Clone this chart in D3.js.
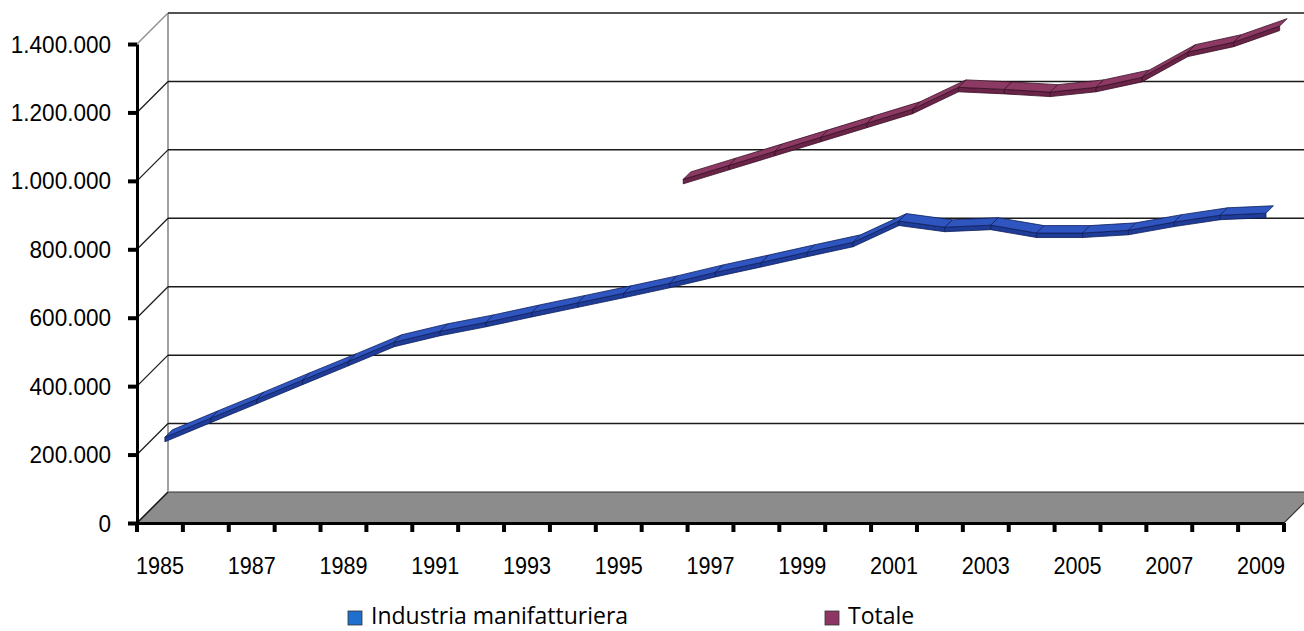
<!DOCTYPE html>
<html><head><meta charset="utf-8">
<script src="https://cdn.jsdelivr.net/npm/d3@7"></script>
<style>body{margin:0;background:#fff}svg{display:block}</style>
</head><body>
<svg id="c" width="1304" height="631"></svg>
<script>
const years = d3.range(1985, 2010);
const industria = [236000,292000,347000,403000,458000,514000,546000,572000,601000,629000,657000,686000,718000,747000,777000,806000,868000,850000,856000,833000,833000,841000,865000,885000,891000];
const totaleYears = d3.range(1996, 2010);
const totale = [950000,991000,1032000,1073000,1114000,1155000,1219000,1213000,1205000,1219000,1248000,1322000,1351000,1398000];
const yTicks = [0,200000,400000,600000,800000,1000000,1200000,1400000];
const xLabelYears = years.filter(y => (y - 1985) % 2 === 0);
const seriesNames = ["Industria manifatturiera", "Totale"];

const svg = d3.select("#c");
const DX = 31, DY = 31;
const x = d3.scaleBand().domain(years).range([137, 1284]).paddingInner(0).paddingOuter(0);
const y = d3.scaleLinear().domain([0, 1400000]).range([523, 44]);
const proj = (px, py, d) => [px + DX * d, py - DY * d];
const loc = d3.formatLocale({decimal: ",", thousands: ".", grouping: [3], currency: ["€", ""]});
const fmt = loc.format(",");
const SX = 0.92;

// floor
const x0 = x.range()[0], x1 = x.range()[1], y0 = y(0);
svg.append("polygon")
  .attr("points", [[x0, y0], [x1, y0], proj(x1, y0, 1), proj(x0, y0, 1)].map(p => p.join(",")).join(" "))
  .attr("fill", "#8c8c8c").attr("stroke", "#333").attr("stroke-width", 1.2);

// back wall left edge
svg.append("line").attr("x1", x0 + DX).attr("x2", x0 + DX)
  .attr("y1", y(1400000) - DY).attr("y2", y0 - DY).attr("stroke", "#a0a0a0").attr("stroke-width", 2);

// gridlines (back wall + side slant)
yTicks.forEach(v => {
  const [bx, by] = proj(x0, y(v), 1);
  if (v > 0) {
    svg.append("line").attr("x1", bx).attr("x2", 1304 + 20).attr("y1", by).attr("y2", by)
      .attr("stroke", "#1a1a1a").attr("stroke-width", 1.5);
  }
  svg.append("line").attr("x1", x0).attr("y1", y(v)).attr("x2", bx).attr("y2", by)
    .attr("stroke", v === 1400000 ? "#8a8a8a" : "#1a1a1a").attr("stroke-width", 1.3);
});

// series ribbons
function ribbon(data, yrs, f, topCol, frontCol, edgeCol) {
  const hw = 0.12, t = 4.5;
  const g = svg.append("g");
  const pts = data.map((v, i) => ({px: x(yrs[i]) + x.bandwidth() / 2, py: y(v)}));
  for (let i = 0; i < pts.length - 1; i++) {
    const a = pts[i], b = pts[i + 1];
    const af = proj(a.px, a.py, f - hw), bf = proj(b.px, b.py, f - hw);
    const ab = proj(a.px, a.py, f + hw), bb = proj(b.px, b.py, f + hw);
    g.append("polygon").attr("points", [af, bf, [bf[0], bf[1] + t], [af[0], af[1] + t]].map(p => p.join(",")).join(" "))
      .attr("fill", frontCol).attr("stroke", edgeCol).attr("stroke-width", 0.8).attr("stroke-linejoin", "round");
    g.append("polygon").attr("points", [af, bf, bb, ab].map(p => p.join(",")).join(" "))
      .attr("fill", topCol).attr("stroke", edgeCol).attr("stroke-width", 0.8).attr("stroke-linejoin", "round");
  }
}
ribbon(totale, totaleYears, 0.72, "#8c3a64", "#6a2448", "#3a0f26");
ribbon(industria, years, 0.28, "#2f55c0", "#1f3c98", "#0e1f5c");

// y axis
const yAxis = svg.append("g").attr("transform", `translate(${x0},0)`)
  .call(d3.axisLeft(y).tickValues(yTicks).tickFormat(fmt).tickSize(9).tickSizeOuter(0));
yAxis.select(".domain").attr("stroke", "#000").attr("stroke-width", 3);
yAxis.selectAll(".tick line").attr("stroke", "#000").attr("stroke-width", 4);
yAxis.selectAll(".tick text").attr("font-family", "Liberation Sans, Arial, sans-serif")
  .attr("font-size", 24.5).attr("fill", "#000").attr("dy", "0.33em")
  .attr("transform", `scale(${SX},1)`).attr("x", -26 / SX);

// x axis
const xAxis = svg.append("g").attr("transform", `translate(0,${y0})`)
  .call(d3.axisBottom(x).tickValues(xLabelYears).tickSize(0).tickSizeOuter(0));
xAxis.select(".domain").attr("stroke", "#000").attr("stroke-width", 3);
xAxis.selectAll(".tick text").attr("font-family", "Liberation Sans, Arial, sans-serif")
  .attr("font-size", 23.5).attr("fill", "#000").attr("dy", 0).attr("y", 51).attr("x", 0)
  .attr("transform", `scale(${SX},1)`);
// x tick marks at band boundaries
const bounds = years.map(yv => x(yv)).concat([x1]);
svg.append("g").selectAll("line").data(bounds).join("line")
  .attr("x1", d => d).attr("x2", d => d).attr("y1", y0).attr("y2", y0 + 9)
  .attr("stroke", "#000").attr("stroke-width", 4);

// legend
const legend = [{name: seriesNames[0], col: "#1f6fcf", x: 348}, {name: seriesNames[1], col: "#8e3663", x: 825}];
const lg = svg.append("g");
legend.forEach(l => {
  lg.append("rect").attr("x", l.x).attr("y", 611).attr("width", 14).attr("height", 14)
    .attr("fill", l.col).attr("stroke", "#333").attr("stroke-width", 0.8);
  lg.append("text").attr("x", l.x + 23).attr("y", 624).text(l.name)
    .attr("font-family", "Open Sans, Noto Sans, sans-serif").attr("font-size", 23).attr("fill", "#000");
});
</script>
</body></html>
